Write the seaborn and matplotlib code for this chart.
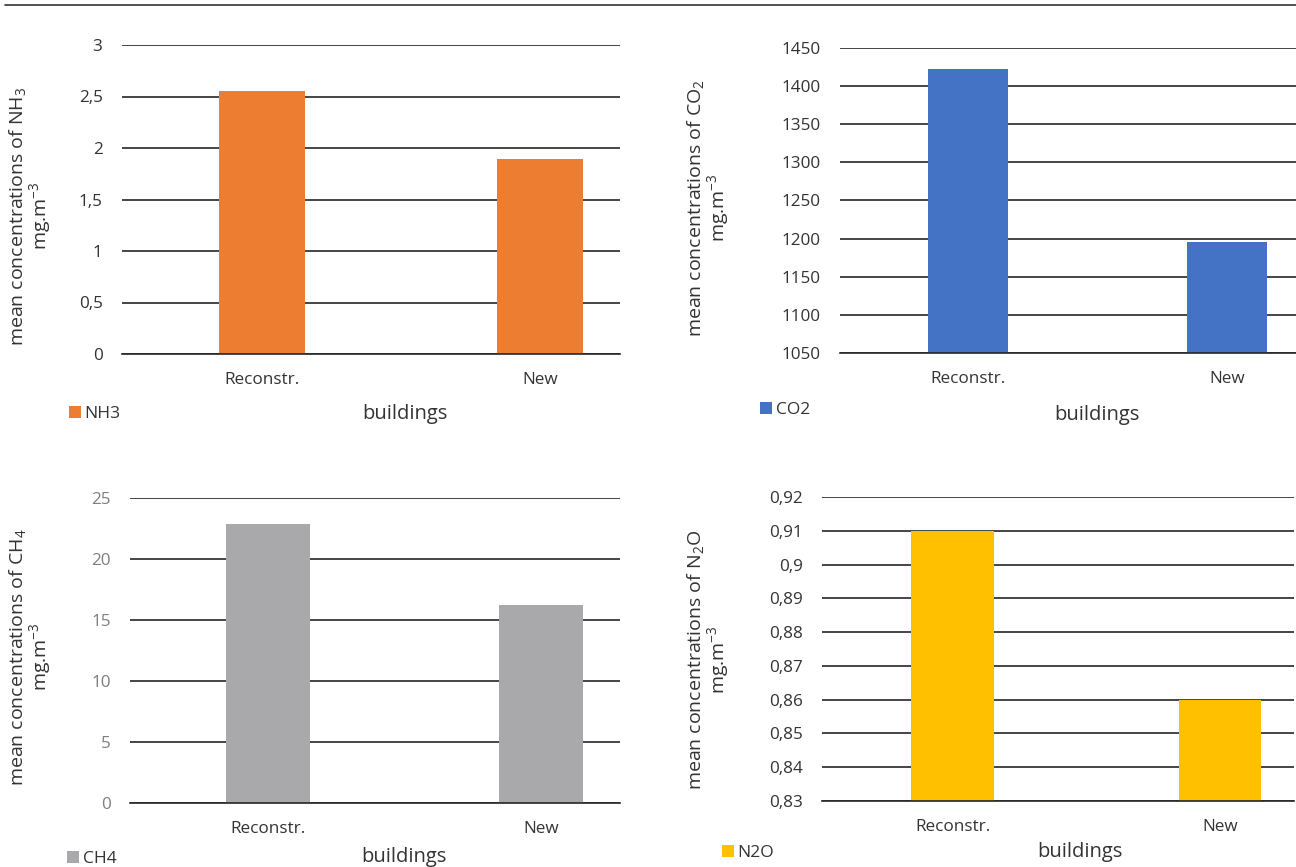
import matplotlib
matplotlib.use("Agg")
import matplotlib.pyplot as plt
from matplotlib.lines import Line2D
from matplotlib.patches import Patch
import pandas as pd
import seaborn as sns

# Data
buildings = ["Reconstr.", "New"]

nh3_values = [2.55, 1.89]
co2_values = [1423, 1195]
ch4_values = [22.9, 16.2]
n2o_values = [0.91, 0.86]

nh3_ticks = [0, 0.5, 1, 1.5, 2, 2.5, 3]
nh3_tick_labels = ["0", "0,5", "1", "1,5", "2", "2,5", "3"]
co2_ticks = [1050, 1100, 1150, 1200, 1250, 1300, 1350, 1400, 1450]
co2_tick_labels = ["1050", "1100", "1150", "1200", "1250", "1300", "1350", "1400", "1450"]
ch4_ticks = [0, 5, 10, 15, 20, 25]
ch4_tick_labels = ["0", "5", "10", "15", "20", "25"]
n2o_ticks = [0.83, 0.84, 0.85, 0.86, 0.87, 0.88, 0.89, 0.90, 0.91, 0.92]
n2o_tick_labels = ["0,83", "0,84", "0,85", "0,86", "0,87", "0,88", "0,89", "0,9", "0,91", "0,92"]

series_names = ["NH3", "CO2", "CH4", "N2O"]
ylabels = [
    "mean concentrations of NH$_3$\nmg.m$^{-3}$",
    "mean concentrations of CO$_2$\nmg.m$^{-3}$",
    "mean concentrations of CH$_4$\nmg.m$^{-3}$",
    "mean concentrations of N$_2$O\nmg.m$^{-3}$",
]
xlabel = "buildings"

sns.set_theme(style="white")
FONT = "Open Sans"
plt.rcParams["font.family"] = [FONT, "DejaVu Sans"]
plt.rcParams["mathtext.fontset"] = "custom"
plt.rcParams["mathtext.rm"] = FONT
plt.rcParams["mathtext.it"] = FONT
plt.rcParams["mathtext.default"] = "regular"

W, H = 1296, 867
fig = plt.figure(figsize=(W / 100, H / 100), dpi=100)
fig.patch.set_facecolor("white")

GRID = "#262626"
DARK = "#333333"
TICK_SIZE = 12.3
LEGEND_SIZE = 12.5
YTITLE_SIZE = 14
XTITLE_SIZE = 14.5


def px_rect(left, right, top, bottom):
    return [left / W, 1 - bottom / H, (right - left) / W, (bottom - top) / H]


panels = [
    dict(values=nh3_values, ticks=nh3_ticks, labels=nh3_tick_labels, color="#ED7D31",
         rect=(122, 620, 45, 354), xlim=(-0.504, 1.288), tick_color=DARK,
         ylab_xy=(30, 216), xlab_xy=(405, 414), leg_xy=(69, 414)),
    dict(values=co2_values, ticks=co2_ticks, labels=co2_tick_labels, color="#4472C4",
         rect=(840, 1296, 48, 353), xlim=(-0.494, 1.266), tick_color=DARK,
         ylab_xy=(708, 208), xlab_xy=(1097, 415), leg_xy=(760, 410)),
    dict(values=ch4_values, ticks=ch4_ticks, labels=ch4_tick_labels, color="#A9A9AC",
         rect=(130, 620, 498, 803), xlim=(-0.505, 1.289), tick_color="#7f7f7f",
         ylab_xy=(30, 657), xlab_xy=(404, 857), leg_xy=(67, 859)),
    dict(values=n2o_values, ticks=n2o_ticks, labels=n2o_tick_labels, color="#FFC000",
         rect=(822, 1294, 497, 801), xlim=(-0.49, 1.277), tick_color=DARK,
         ylab_xy=(708, 660), xlab_xy=(1080, 852), leg_xy=(722, 853)),
]

for name, ylab, p in zip(series_names, ylabels, panels):
    ax = fig.add_axes(px_rect(*p["rect"]))
    df = pd.DataFrame({"building": buildings, "value": p["values"]})
    sns.barplot(data=df, x="building", y="value", color=p["color"], width=0.31,
                saturation=1, ax=ax)
    for bar in ax.patches:
        bar.set_edgecolor("none")
    ax.set_xlim(*p["xlim"])
    ax.set_ylim(p["ticks"][0], p["ticks"][-1])
    ax.set_yticks(p["ticks"])
    ax.set_yticklabels(p["labels"])
    ax.set_xlabel("")
    ax.set_ylabel("")
    ax.set_axisbelow(True)
    ax.grid(axis="y", color=GRID, linewidth=1.2)
    ax.grid(axis="x", visible=False)
    for side in ["top", "right", "left"]:
        ax.spines[side].set_visible(False)
    ax.spines["bottom"].set_color(GRID)
    ax.spines["bottom"].set_linewidth(1.2)
    ax.tick_params(axis="y", length=0, pad=14, labelsize=TICK_SIZE, labelcolor=p["tick_color"])
    ax.tick_params(axis="x", length=0, pad=13, labelsize=TICK_SIZE, labelcolor=DARK)
    ax.set_facecolor("none")

    # y axis title
    fig.text(p["ylab_xy"][0] / W, 1 - p["ylab_xy"][1] / H, ylab, rotation=90,
             ha="center", va="center", multialignment="center",
             fontsize=YTITLE_SIZE, color=DARK, linespacing=1.0)
    # x axis title
    fig.text(p["xlab_xy"][0] / W, 1 - p["xlab_xy"][1] / H, xlabel,
             ha="center", va="center", fontsize=XTITLE_SIZE, color=DARK)
    # legend
    handle = Patch(facecolor=p["color"], edgecolor="none")
    fig.legend(handles=[handle], labels=[name], loc="center left",
               bbox_to_anchor=(p["leg_xy"][0] / W, 1 - p["leg_xy"][1] / H),
               frameon=False, handlelength=0.7, handleheight=0.7,
               handletextpad=0.2, borderpad=0, borderaxespad=0,
               fontsize=LEGEND_SIZE, labelcolor=DARK)

# top rule
fig.add_artist(Line2D([5 / W, 1.0], [1 - 5 / H, 1 - 5 / H], color="#333333",
                      linewidth=1.2, transform=fig.transFigure))

fig.savefig("out.png", dpi=100)
